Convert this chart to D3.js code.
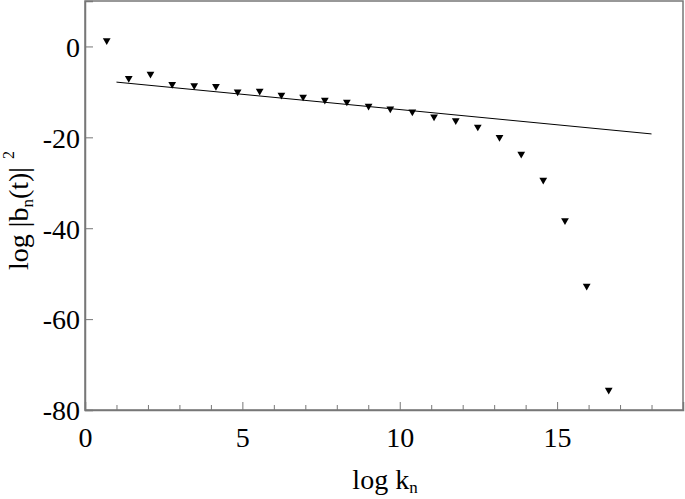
<!DOCTYPE html>
<html>
<head>
<meta charset="utf-8">
<script src="https://cdn.jsdelivr.net/npm/d3@7"></script>
<style>
  html, body { margin: 0; padding: 0; background: #fff; }
  svg { display: block; }
  text { font-family: "Liberation Serif", "DejaVu Serif", serif; fill: #000; }
</style>
</head>
<body>
<svg id="chart" width="685" height="499"></svg>
<script>
// points: log k_n vs log |b_n(t)|^2
const logK = [0.69, 1.39, 2.08, 2.77, 3.47, 4.16, 4.85, 5.55, 6.24, 6.93, 7.62, 8.32,
  9.01, 9.70, 10.40, 11.09, 11.78, 12.48, 13.17, 13.86, 14.56, 15.25, 15.94, 16.64];
const logB = [1.3, -7.0, -6.05, -8.3, -8.6, -8.75, -9.95, -9.8, -10.7, -11.1, -11.8, -12.2,
  -13.1, -13.7, -14.35, -15.45, -16.3, -17.7, -20.0, -23.65, -29.4, -38.3, -52.7, -75.6];

// fitted straight line
const fitX = [1, 18];
const fitY = [-7.85, -19.25];

const xTicks = [0, 5, 10, 15];
const xMinor = [1, 2, 3, 4, 6, 7, 8, 9, 11, 12, 13, 14, 16, 17, 18];
const yTicks = [0, -20, -40, -60, -80];

const svg = d3.select("#chart");
const margin = { left: 85, top: 1, right: 2, bottom: 89 };
const width = +svg.attr("width");
const height = +svg.attr("height");

const x = d3.scaleLinear().domain([0, 19]).range([margin.left, width - margin.right]);
const y = d3.scaleLinear().domain([-80, 10]).range([height - margin.bottom, margin.top]);

const axisColor = "#777";

// frame
svg.append("rect")
  .attr("x", x(0))
  .attr("y", y(10))
  .attr("width", x(19) - x(0))
  .attr("height", y(-80) - y(10))
  .attr("fill", "none")
  .attr("stroke", axisColor)
  .attr("stroke-width", 1.5);

// x axis: major + minor ticks pointing inward
const xAxis = svg.append("g")
  .attr("transform", `translate(0,${y(-80)})`)
  .call(d3.axisBottom(x).tickValues(xTicks).tickSize(-8).tickFormat(d => String(d)));
svg.append("g")
  .attr("transform", `translate(0,${y(-80)})`)
  .call(d3.axisBottom(x).tickValues(xMinor).tickSize(-5).tickFormat(""))
  .call(g => g.select(".domain").remove());

// y axis
const yAxis = svg.append("g")
  .attr("transform", `translate(${x(0)},0)`)
  .call(d3.axisLeft(y).tickValues(yTicks).tickSize(-8).tickPadding(5).tickFormat(d => String(d)));

svg.selectAll(".domain").attr("stroke", axisColor).attr("stroke-width", 1.5);
svg.selectAll(".tick line").attr("stroke", axisColor).attr("stroke-width", 1);
svg.selectAll(".tick text")
  .style("font-family", "'Liberation Serif', serif")
  .style("font-size", "28px")
  .attr("fill", "#000");
xAxis.selectAll(".tick text").attr("dy", null).attr("y", 37);
yAxis.selectAll(".tick text").attr("dy", "0.35em");

// fit line
svg.append("path")
  .datum(d3.zip(fitX, fitY))
  .attr("fill", "none")
  .attr("stroke", "#000")
  .attr("stroke-width", 1)
  .attr("d", d3.line().x(d => x(d[0])).y(d => y(d[1])));

// triangle markers (pointing down)
const tri = d3.symbol().type(d3.symbolTriangle).size(26);
svg.append("g")
  .selectAll("path")
  .data(d3.zip(logK, logB))
  .join("path")
  .attr("d", tri)
  .attr("fill", "#000")
  .attr("transform", d => `translate(${x(d[0])},${y(d[1])}) rotate(180)`);

// x label
const xl = svg.append("text")
  .attr("x", 385)
  .attr("y", 489)
  .attr("text-anchor", "middle")
  .style("font-size", "28px");
xl.append("tspan").text("log k");
xl.append("tspan").attr("dy", 4).style("font-size", "17px").text("n");

// y label
const yl = svg.append("text")
  .attr("transform", "translate(28,270) rotate(-90)")
  .attr("text-anchor", "start")
  .style("font-size", "28px");
yl.append("tspan").text("log |b");
yl.append("tspan").attr("dy", 5).style("font-size", "17px").text("n");
yl.append("tspan").attr("dy", -5).text("(t)|");
yl.append("tspan").attr("dx", 8).attr("dy", -14).style("font-size", "16px").text("2");
</script>
</body>
</html>
